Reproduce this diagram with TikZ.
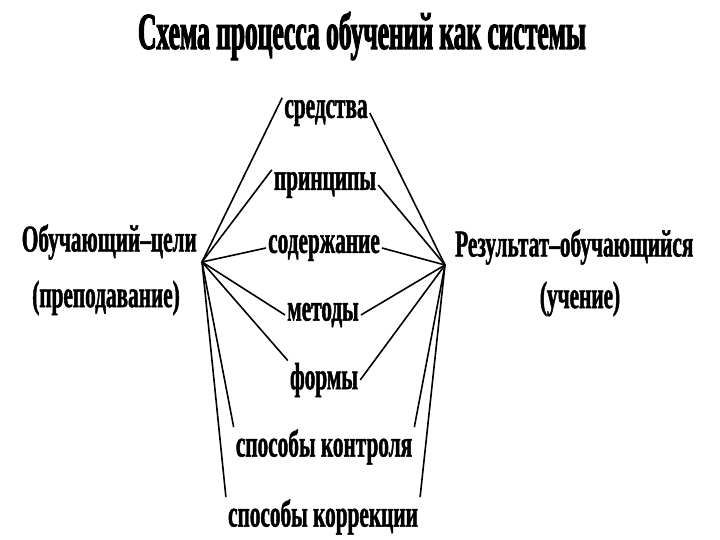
\documentclass[tikz,border=0pt]{standalone}
\usepackage{fontspec}
\setmainfont{Liberation Serif}[UprightFont={* Bold}, FakeStretch=0.56, FakeBold=1.2]
\newfontfamily\titlefont{Liberation Serif}[UprightFont={* Bold}, FakeStretch=0.49, FakeBold=2]
\begin{document}
\begin{tikzpicture}[x=1pt,y=-1pt,
  lbl/.style={inner sep=2pt, font=\fontsize{38}{40}\selectfont},
  ttl/.style={inner sep=0pt, font=\titlefont\fontsize{52}{54}\selectfont},
  con/.style={draw=black, line width=1.6pt}]
\useasboundingbox (0,0) rectangle (720,540);
\fill[white] (0,0) rectangle (720,540);
\node[ttl] (title) at (362,36) {Схема процесса обучений как системы};
\node[lbl, anchor=east] (t1) at (199,242) {Обучающий–цели};
\node[lbl] (t2) at (106,298) {(преподавание)};
\node[lbl, anchor=west] (r1) at (453,247) {Результат–обучающийся};
\node[lbl] (r2) at (580,299) {(учение)};
\coordinate (L) at (202,262);
\coordinate (R) at (445,265);
\node[lbl] (sr) at (326,113) {средства};
\node[lbl] (pr) at (325,185) {принципы};
\node[lbl] (sod) at (324,248) {содержание};
\node[lbl] (met) at (323,315) {методы};
\node[lbl] (form) at (324,380) {формы};
\node[lbl] (kon) at (324,447) {способы контроля};
\node[lbl] (kor) at (323,517) {способы коррекции};
\draw[con] (L) -- (sr.north west);
\draw[con] (L) -- (pr.north west);
\draw[con] (L) -- (sod.west);
\draw[con] (L) -- (met.west);
\draw[con] (L) -- (form.north west);
\draw[con] (L) -- (kon.north west);
\draw[con] (L) -- (kor.north west);
\draw[con] (R) -- (sr.east);
\draw[con] (R) -- (pr.east);
\draw[con] (R) -- (sod.east);
\draw[con] (R) -- (met.east);
\draw[con] (R) -- (form.east);
\draw[con] (R) -- (kon.north east);
\draw[con] (R) -- (kor.north east);
\end{tikzpicture}
\end{document}
